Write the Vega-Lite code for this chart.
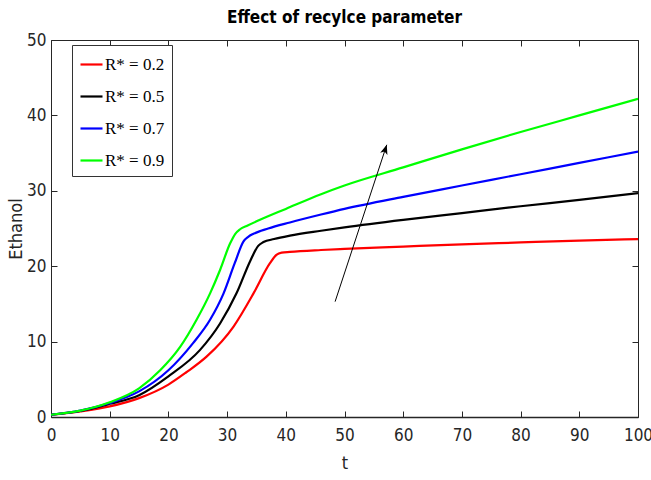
{
  "$schema": "https://vega.github.io/schema/vega-lite/v6.json",
  "width": 587,
  "height": 377,
  "autosize": {"type": "none"},
  "padding": {"left": 51, "top": 40, "right": 13, "bottom": 63},
  "background": "white",
  "title": {
    "text": "Effect of recylce parameter",
    "font": "DejaVu Sans Condensed, Liberation Sans",
    "fontSize": 17,
    "fontWeight": "bold",
    "color": "#000000",
    "anchor": "middle",
    "offset": 4
  },
  "config": {
    "view": {"stroke": null},
    "axis": {
      "labelFont": "DejaVu Sans Condensed, Liberation Sans",
      "titleFont": "DejaVu Sans Condensed, Liberation Sans",
      "labelFontSize": 17,
      "titleFontSize": 18,
      "titleFontWeight": "normal",
      "labelColor": "#262626",
      "titleColor": "#262626",
      "domainColor": "#262626",
      "tickColor": "#262626",
      "labelFlush": false,
      "labelOverlap": false,
      "grid": false
    }
  },
  "datasets": {
    "curves": [
      {"t": 0, "v": 0.3, "series": "R* = 0.2"},
      {"t": 5, "v": 0.75, "series": "R* = 0.2"},
      {"t": 10, "v": 1.4, "series": "R* = 0.2"},
      {"t": 15, "v": 2.5, "series": "R* = 0.2"},
      {"t": 20, "v": 4.3, "series": "R* = 0.2"},
      {"t": 23, "v": 5.9, "series": "R* = 0.2"},
      {"t": 26.5, "v": 8.0, "series": "R* = 0.2"},
      {"t": 31.1, "v": 12.0, "series": "R* = 0.2"},
      {"t": 34.5, "v": 16.4, "series": "R* = 0.2"},
      {"t": 37.3, "v": 20.4, "series": "R* = 0.2"},
      {"t": 38.4, "v": 21.5, "series": "R* = 0.2"},
      {"t": 39.3, "v": 21.8, "series": "R* = 0.2"},
      {"t": 40.7, "v": 21.9, "series": "R* = 0.2"},
      {"t": 46, "v": 22.15, "series": "R* = 0.2"},
      {"t": 50, "v": 22.3, "series": "R* = 0.2"},
      {"t": 60, "v": 22.6, "series": "R* = 0.2"},
      {"t": 70, "v": 22.9, "series": "R* = 0.2"},
      {"t": 80, "v": 23.15, "series": "R* = 0.2"},
      {"t": 90, "v": 23.4, "series": "R* = 0.2"},
      {"t": 100, "v": 23.6, "series": "R* = 0.2"},

      {"t": 0, "v": 0.3, "series": "R* = 0.5"},
      {"t": 5, "v": 0.8, "series": "R* = 0.5"},
      {"t": 10, "v": 1.75, "series": "R* = 0.5"},
      {"t": 15, "v": 2.9, "series": "R* = 0.5"},
      {"t": 20, "v": 5.4, "series": "R* = 0.5"},
      {"t": 25.4, "v": 8.9, "series": "R* = 0.5"},
      {"t": 28.8, "v": 12.4, "series": "R* = 0.5"},
      {"t": 31.6, "v": 16.4, "series": "R* = 0.5"},
      {"t": 34, "v": 20.8, "series": "R* = 0.5"},
      {"t": 35.3, "v": 22.7, "series": "R* = 0.5"},
      {"t": 36.2, "v": 23.2, "series": "R* = 0.5"},
      {"t": 38, "v": 23.6, "series": "R* = 0.5"},
      {"t": 40.7, "v": 24.05, "series": "R* = 0.5"},
      {"t": 46, "v": 24.7, "series": "R* = 0.5"},
      {"t": 50, "v": 25.15, "series": "R* = 0.5"},
      {"t": 60, "v": 26.15, "series": "R* = 0.5"},
      {"t": 70, "v": 27.05, "series": "R* = 0.5"},
      {"t": 80, "v": 27.95, "series": "R* = 0.5"},
      {"t": 90, "v": 28.8, "series": "R* = 0.5"},
      {"t": 100, "v": 29.7, "series": "R* = 0.5"},

      {"t": 0, "v": 0.3, "series": "R* = 0.7"},
      {"t": 5, "v": 0.85, "series": "R* = 0.7"},
      {"t": 10, "v": 1.85, "series": "R* = 0.7"},
      {"t": 15, "v": 3.4, "series": "R* = 0.7"},
      {"t": 20, "v": 6.2, "series": "R* = 0.7"},
      {"t": 24.2, "v": 9.8, "series": "R* = 0.7"},
      {"t": 27.1, "v": 12.9, "series": "R* = 0.7"},
      {"t": 29.4, "v": 16.4, "series": "R* = 0.7"},
      {"t": 31.3, "v": 20.4, "series": "R* = 0.7"},
      {"t": 32.8, "v": 23.3, "series": "R* = 0.7"},
      {"t": 33.6, "v": 23.9, "series": "R* = 0.7"},
      {"t": 34.5, "v": 24.3, "series": "R* = 0.7"},
      {"t": 37, "v": 25.0, "series": "R* = 0.7"},
      {"t": 40.7, "v": 25.8, "series": "R* = 0.7"},
      {"t": 46, "v": 26.85, "series": "R* = 0.7"},
      {"t": 50, "v": 27.6, "series": "R* = 0.7"},
      {"t": 60, "v": 29.2, "series": "R* = 0.7"},
      {"t": 70, "v": 30.7, "series": "R* = 0.7"},
      {"t": 80, "v": 32.2, "series": "R* = 0.7"},
      {"t": 90, "v": 33.7, "series": "R* = 0.7"},
      {"t": 100, "v": 35.2, "series": "R* = 0.7"},

      {"t": 0, "v": 0.3, "series": "R* = 0.9"},
      {"t": 5, "v": 0.85, "series": "R* = 0.9"},
      {"t": 10, "v": 1.95, "series": "R* = 0.9"},
      {"t": 15, "v": 3.8, "series": "R* = 0.9"},
      {"t": 18.6, "v": 6.2, "series": "R* = 0.9"},
      {"t": 22, "v": 9.3, "series": "R* = 0.9"},
      {"t": 24.8, "v": 12.9, "series": "R* = 0.9"},
      {"t": 27.1, "v": 16.4, "series": "R* = 0.9"},
      {"t": 28.8, "v": 19.5, "series": "R* = 0.9"},
      {"t": 30.5, "v": 23.0, "series": "R* = 0.9"},
      {"t": 31.4, "v": 24.3, "series": "R* = 0.9"},
      {"t": 32.2, "v": 24.9, "series": "R* = 0.9"},
      {"t": 33.5, "v": 25.4, "series": "R* = 0.9"},
      {"t": 35.6, "v": 26.15, "series": "R* = 0.9"},
      {"t": 40, "v": 27.6, "series": "R* = 0.9"},
      {"t": 46, "v": 29.55, "series": "R* = 0.9"},
      {"t": 50, "v": 30.7, "series": "R* = 0.9"},
      {"t": 60, "v": 33.1, "series": "R* = 0.9"},
      {"t": 70, "v": 35.5, "series": "R* = 0.9"},
      {"t": 80, "v": 37.8, "series": "R* = 0.9"},
      {"t": 90, "v": 40.0, "series": "R* = 0.9"},
      {"t": 100, "v": 42.2, "series": "R* = 0.9"}
    ],
    "arrow": [
      {"t": 48.4, "v": 15.3, "t2": 57.2, "v2": 36.1}
    ]
  },
  "layer": [
    {
      "data": {"name": "curves"},
      "mark": {"type": "line", "strokeWidth": 2.2, "interpolate": "monotone", "clip": true},
      "encoding": {
        "x": {
          "field": "t", "type": "quantitative",
          "scale": {"domain": [0, 100], "nice": false},
          "axis": {"values": [0,10,20,30,40,50,60,70,80,90,100], "tickSize": -6, "labelPadding": 16, "title": "t", "titlePadding": 11, "domainWidth": 1.5}
        },
        "y": {
          "field": "v", "type": "quantitative",
          "scale": {"domain": [0, 50], "nice": false},
          "axis": {"values": [0,10,20,30,40,50], "tickSize": -6, "labelPadding": 11, "title": "Ethanol", "titlePadding": 1}
        },
        "color": {
          "field": "series", "type": "nominal",
          "scale": {"domain": ["R* = 0.2", "R* = 0.5", "R* = 0.7", "R* = 0.9"], "range": ["#ff0000", "#000000", "#0000ff", "#00ff00"]},
          "legend": {
            "title": null,
            "orient": "none",
            "legendX": 21,
            "legendY": 5,
            "symbolType": "stroke",
            "symbolSize": 484,
            "symbolStrokeWidth": 2.2,
            "labelFont": "Liberation Serif",
            "labelFontSize": 17,
            "labelColor": "#000000",
            "labelOffset": 1,
            "rowPadding": 11,
            "padding": 7,
            "strokeColor": "#333333",
            "fillColor": "white"
          }
        }
      }
    },
    {
      "data": {"name": "arrow"},
      "mark": {"type": "rule", "color": "#000000", "strokeWidth": 1},
      "encoding": {
        "x": {"field": "t", "type": "quantitative", "axis": null},
        "y": {"field": "v", "type": "quantitative", "axis": null},
        "x2": {"field": "t2"},
        "y2": {"field": "v2"}
      }
    },
    {
      "data": {"name": "arrow"},
      "mark": {"type": "point", "shape": "M0,0L-0.4,1L0,0.75L0.4,1Z", "filled": true, "color": "#000000", "opacity": 1, "size": 360, "angle": 18.2},
      "encoding": {
        "x": {"field": "t2", "type": "quantitative", "axis": null},
        "y": {"field": "v2", "type": "quantitative", "axis": null}
      }
    },
    {
      "data": {"values": [{"t": 0, "v": 0}]},
      "mark": {"type": "point", "opacity": 0},
      "encoding": {
        "x": {"field": "t", "type": "quantitative", "axis": {"orient": "top", "values": [0,10,20,30,40,50,60,70,80,90,100], "labels": false, "title": null, "tickSize": -6}},
        "y": {"field": "v", "type": "quantitative", "axis": {"orient": "right", "values": [0,10,20,30,40,50], "labels": false, "title": null, "tickSize": -6}}
      }
    }
  ],
  "resolve": {"axis": {"x": "independent", "y": "independent"}}
}
